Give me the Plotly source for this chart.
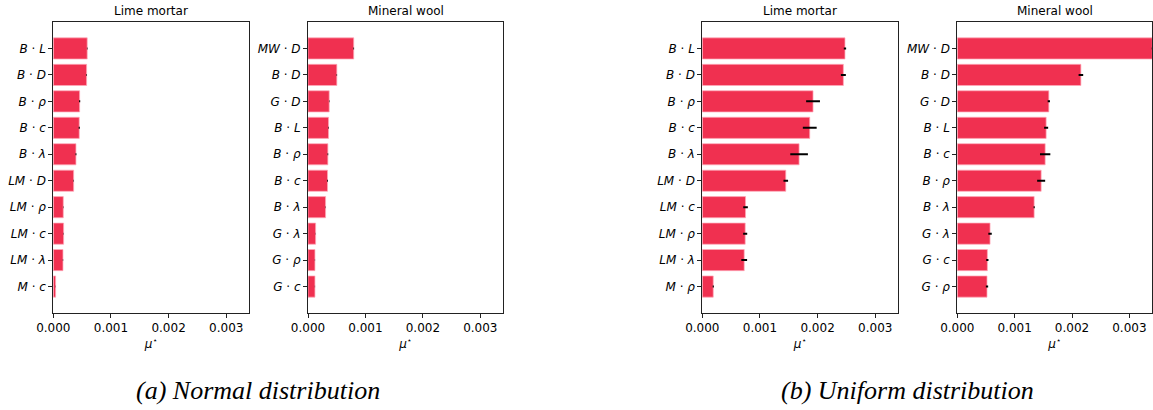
import plotly.graph_objects as go

# ---------------- data ----------------
normal_lime_labels = ["B·L", "B·D", "B·ρ", "B·c", "B·λ", "LM·D", "LM·ρ", "LM·c", "LM·λ", "M·c"]
normal_lime_mu = [0.000588, 0.000578, 0.000457, 0.000450, 0.000393, 0.000353, 0.000173, 0.000179, 0.000168, 0.000040]
normal_lime_err = [0.000005, 0.000005, 0.000010, 0.000010, 0.000008, 0.000004, 0.000003, 0.000003, 0.000003, 0.000002]

normal_wool_labels = ["MW·D", "B·D", "G·D", "B·L", "B·ρ", "B·c", "B·λ", "G·λ", "G·ρ", "G·c"]
normal_wool_mu = [0.000796, 0.000502, 0.000369, 0.000358, 0.000346, 0.000340, 0.000306, 0.000133, 0.000121, 0.000121]
normal_wool_err = [0.000006, 0.000004, 0.000004, 0.000005, 0.000006, 0.000007, 0.000003, 0.000002, 0.000002, 0.000002]

uniform_lime_labels = ["B·L", "B·D", "B·ρ", "B·c", "B·λ", "LM·D", "LM·c", "LM·ρ", "LM·λ", "M·ρ"]
uniform_lime_mu = [0.002475, 0.002447, 0.001921, 0.001864, 0.001679, 0.001448, 0.000750, 0.000744, 0.000727, 0.000190]
uniform_lime_err = [0.000020, 0.000043, 0.000120, 0.000120, 0.000153, 0.000040, 0.000040, 0.000035, 0.000050, 0.000010]

uniform_wool_labels = ["MW·D", "B·D", "G·D", "B·L", "B·c", "B·ρ", "B·λ", "G·λ", "G·c", "G·ρ"]
uniform_wool_mu = [0.003400, 0.002155, 0.001596, 0.001549, 0.001532, 0.001462, 0.001340, 0.000571, 0.000524, 0.000518]
uniform_wool_err = [0.000010, 0.000040, 0.000020, 0.000035, 0.000090, 0.000070, 0.000010, 0.000030, 0.000020, 0.000020]

panel_titles = ["Lime mortar", "Mineral wool", "Lime mortar", "Mineral wool"]
x_ticks = [0.0, 0.001, 0.002, 0.003]
x_tick_text = ["0.000", "0.001", "0.002", "0.003"]
captions = ["(a) Normal distribution", "(b) Uniform distribution"]

# ---------------- layout constants ----------------
W, H = 1153, 410
BAR_COLOR = "#F03050"
FONT = "DejaVu Sans"
FS = 12
panels_px = [(53.3, 249.3), (308.0, 503.3), (702.3, 898.3), (957.3, 1152.3)]
top_px, bottom_px = 22, 313
y_dom = [1 - bottom_px / H, 1 - top_px / H]


def fmt(label):
    a, b = label.split("·")
    return f"<i>{a}</i> · <i>{b}</i>"


datasets = [
    (normal_lime_labels, normal_lime_mu, normal_lime_err),
    (normal_wool_labels, normal_wool_mu, normal_wool_err),
    (uniform_lime_labels, uniform_lime_mu, uniform_lime_err),
    (uniform_wool_labels, uniform_wool_mu, uniform_wool_err),
]

fig = go.Figure()
layout = dict(
    width=W, height=H,
    margin=dict(l=0, r=0, t=0, b=0, autoexpand=False),
    paper_bgcolor="white", plot_bgcolor="white",
    showlegend=False,
    font=dict(family=FONT, size=FS, color="black"),
    annotations=[],
)

for i, (labels, mu, err) in enumerate(datasets):
    k = "" if i == 0 else str(i + 1)
    ylabels = [fmt(l) for l in labels]
    fig.add_trace(go.Bar(
        x=mu, y=ylabels, orientation="h", width=0.8,
        marker=dict(color=BAR_COLOR, line=dict(color="rgba(255,170,185,0.9)", width=0.8)),
        error_x=dict(type="data", array=err, color="black", thickness=2, width=0),
        xaxis="x" + k, yaxis="y" + k, cliponaxis=True,
    ))
    x0, x1 = panels_px[i]
    layout["xaxis" + k] = dict(
        domain=[x0 / W, x1 / W], anchor="y" + k, automargin=False,
        range=[0, 0.0034], tickvals=x_ticks, ticktext=x_tick_text,
        showline=True, linecolor="#222", linewidth=1, mirror=True,
        ticks="outside", ticklen=4, tickcolor="#222",
        showgrid=False, zeroline=False,
        tickfont=dict(family=FONT, size=FS, color="black"),
        title=dict(text="<i>μ</i><sup>⋆</sup>", font=dict(family=FONT, size=FS), standoff=4),
    )
    layout["yaxis" + k] = dict(
        domain=y_dom, anchor="x" + k, type="category", automargin=False,
        categoryorder="array", categoryarray=ylabels,
        range=[10, -1],
        showline=True, linecolor="#222", linewidth=1, mirror=True,
        ticks="outside", ticklen=4, tickcolor="#222",
        showgrid=False, zeroline=False,
        tickfont=dict(family=FONT, size=FS, color="black"),
    )
    layout["annotations"].append(dict(
        text=panel_titles[i], x=(x0 + x1) / 2 / W, y=1 - 11 / H,
        xref="paper", yref="paper", showarrow=False,
        xanchor="center", yanchor="middle",
        font=dict(family=FONT, size=FS, color="black"),
    ))

for cx, cap in zip([258, 907], captions):
    layout["annotations"].append(dict(
        text=f"<i>{cap}</i>", x=cx / W, y=1 - 390 / H,
        xref="paper", yref="paper", showarrow=False,
        xanchor="center", yanchor="middle",
        font=dict(family="Liberation Serif", size=26, color="black"),
    ))

fig.update_layout(**layout)
fig.write_html(
    "out.html",
    config={"displayModeBar": False},
    post_script="document.body.style.margin='0';document.body.style.overflow='hidden';",
)
